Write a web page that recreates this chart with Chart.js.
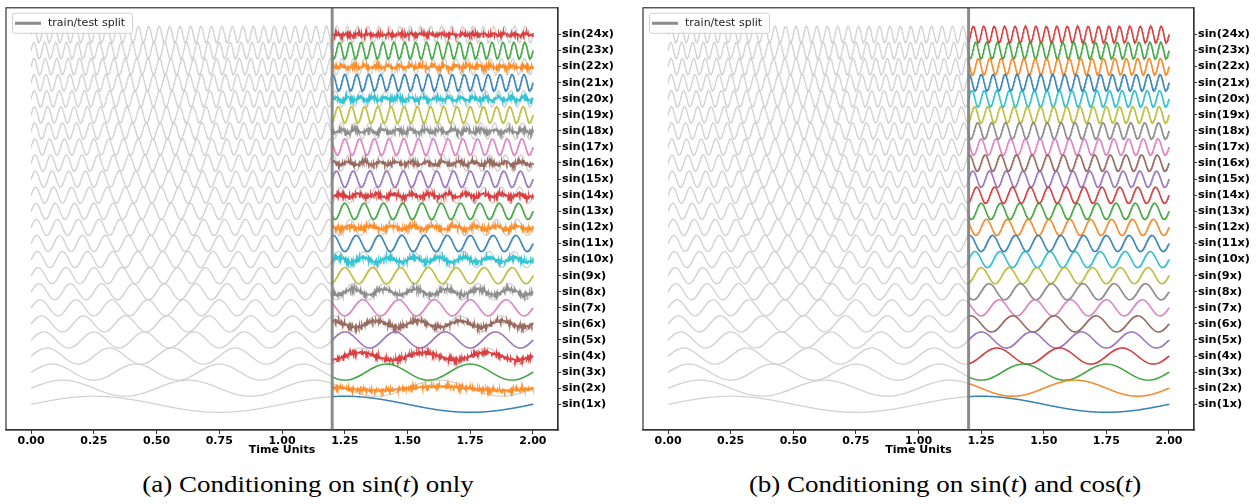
<!DOCTYPE html>
<html>
<head>
<meta charset="utf-8">
<script src="https://cdn.jsdelivr.net/npm/chart.js@4.4.0/dist/chart.umd.min.js"></script>
<style>
  body { margin: 0; background: #fff; width: 1258px; height: 504px; overflow: hidden; position: relative; }
  .panel { position: absolute; top: 0; height: 462px; }
  .caption {
    position: absolute; top: 472px; transform: translateX(-50%) scaleX(1.2);
    font-family: 'Liberation Serif', serif; font-size: 22.5px; color: #000; white-space: nowrap;
  }
</style>
</head>
<body>
<div class="panel" style="left:0; width:618px"><canvas id="chartA"></canvas></div>
<div class="panel" style="left:637px; width:617px"><canvas id="chartB"></canvas></div>
<div class="caption" style="left:308px">(a) Conditioning on sin(<i>t</i>) only</div>
<div class="caption" style="left:945px">(b) Conditioning on sin(<i>t</i>) and cos(<i>t</i>)</div>

<script>
// one row per frequency, sin(kx) = k cycles per time unit
const freqs = [1, 2, 3, 4, 5, 6, 7, 8, 9, 10, 11, 12, 13, 14, 15, 16, 17, 18, 19, 20, 21, 22, 23, 24];
const rowLabels = freqs.map(k => 'sin(' + k + 'x)');
const xTicks = [0, 0.25, 0.5, 0.75, 1.0, 1.25, 1.5, 1.75, 2.0];
const splitT = 1.2;
const endT = 2.0;

// left panel (sin only): how much of the true swing the prediction keeps, and its noise level
const predScaleA = [1, 0.25, 1, 0.45, 1, 0.4, 1, 0.35, 1, 0.3, 1, 0.2, 1, 0.2, 1, 0.2, 1, 0.2, 1, 0.2, 1, 0.15, 1, 0.1];
const noiseA = [0, 0.13, 0, 0.15, 0, 0.15, 0, 0.15, 0, 0.17, 0, 0.15, 0, 0.16, 0, 0.15, 0, 0.17, 0, 0.17, 0, 0.15, 0, 0.14];
// jitter shapes for the noisy predictions (mostly small, with some deep downward spikes)
const jitterA = [0.2, -0.1, 0.35, -0.3, 0.1, 0.45, -0.2, 0.05, -0.8, 0.3, -0.05, 0.25, -0.4, 0.15, 0.4, -0.15, 0.0, -1.2, 0.3,
                 0.1, -0.25, 0.5, -0.1, 0.2, -0.35, 0.05, 0.3, -0.6, 0.15, -0.05, 0.4, -0.2, 0.1, -0.9, 0.25, 0.0, -0.3];
const jitterB = [0.1, -0.2, 0.3, 0.0, -0.4, 0.2, -0.1, 0.35, -0.25, 0.05, -0.7, 0.15, 0.25, -0.05, -0.3, 0.4, -0.15, 0.1,
                 -0.5, 0.2, 0.0, -0.2, 0.3];

const palette = ['#1f77b4', '#ff7f0e', '#2ca02c', '#d62728', '#9467bd', '#8c564b', '#e377c2', '#7f7f7f', '#bcbd22', '#17becf'];
const AMP = 0.5;
const STEP = 0.002;
const Y_MIN = -0.6, Y_MAX = 25.65;

function wave(k, t) {
    return k + AMP * Math.sin(2 * Math.PI * k * t);
}

function buildDatasets(noisy) {
    const sets = [];
    const nEnd = Math.round(endT / STEP);
    const nSplit = Math.round(splitT / STEP);
    freqs.forEach((k, r) => {
        const grey = [];
        for (let i = 0; i <= nEnd; i++) {
            const t = i * STEP;
            grey.push({ x: t, y: wave(k, t) });
        }
        sets.push({ data: grey, borderColor: 'rgba(205,205,205,0.95)', borderWidth: 1.2, order: 2 });

        const pred = [];
        for (let i = nSplit; i <= nEnd; i++) {
            const t = i * STEP;
            let y = wave(k, t);
            if (noisy) {
                const j = jitterA[(i + r * 5) % jitterA.length] + jitterB[(i + r * 3) % jitterB.length];
                y = k + predScaleA[r] * (y - k) + noiseA[r] * j;
            }
            pred.push({ x: t, y: y });
        }
        sets.push({ data: pred, borderColor: palette[r % 10] + 'e0', borderWidth: noisy && noiseA[r] ? 1.5 : 1.4, order: 1 });
    });
    // train/test split marker
    sets.push({ data: [{ x: splitT, y: Y_MIN }, { x: splitT, y: Y_MAX }],
                borderColor: 'rgba(128,128,128,0.9)', borderWidth: 3, order: 0 });
    return sets;
}

const framePlugin = {
    id: 'frame',
    afterDatasetsDraw(chart) {
        const { ctx, chartArea: a } = chart;
        ctx.save();
        ctx.strokeStyle = '#333';
        ctx.lineWidth = 1.2;
        ctx.strokeRect(a.left, a.top, a.right - a.left, a.bottom - a.top);
        ctx.restore();
    }
};

const splitLegend = {
    id: 'splitLegend',
    afterDraw(chart) {
        const { ctx, chartArea: a } = chart;
        const x = a.left + 6, y = a.top + 5;
        ctx.save();
        ctx.font = '11px "DejaVu Sans"';
        const w = ctx.measureText('train/test split').width + 43;
        ctx.fillStyle = 'rgba(255,255,255,0.8)';
        ctx.strokeStyle = '#d0d0d0';
        ctx.lineWidth = 1;
        ctx.beginPath();
        ctx.roundRect(x + 0.5, y + 0.5, w, 20, 2);
        ctx.fill();
        ctx.stroke();
        ctx.strokeStyle = 'rgba(128,128,128,0.9)';
        ctx.lineWidth = 3;
        ctx.beginPath();
        ctx.moveTo(x + 3, y + 10.5);
        ctx.lineTo(x + 29, y + 10.5);
        ctx.stroke();
        ctx.fillStyle = '#222';
        ctx.textBaseline = 'middle';
        ctx.fillText('train/test split', x + 36, y + 10);
        ctx.restore();
    }
};

const boldFont = { family: 'DejaVu Sans', size: 11, weight: 'bold' };

function makeChart(id, noisy) {
    return new Chart(document.getElementById(id), {
        type: 'line',
        data: { datasets: buildDatasets(noisy) },
        options: {
            responsive: true,
            maintainAspectRatio: false,
            animation: false,
            parsing: false,
            normalized: true,
            events: [],
            elements: { point: { radius: 0 }, line: { tension: 0 } },
            layout: { padding: { left: 6, top: 4, right: 0, bottom: 0 } },
            plugins: { legend: { display: false }, tooltip: { enabled: false } },
            scales: {
                x: {
                    type: 'linear', position: 'bottom', min: -0.1, max: 2.1,
                    afterBuildTicks: s => { s.ticks = xTicks.map(v => ({ value: v })); },
                    afterFit: s => { s.height = 32; },
                    grid: { drawOnChartArea: false, tickLength: 4, color: '#333' },
                    border: { color: '#333', width: 1.2 },
                    ticks: { callback: v => v.toFixed(2), color: '#000', font: boldFont,
                             padding: 1, maxRotation: 0, autoSkip: false },
                    title: { display: true, text: 'Time Units', color: '#000', font: boldFont,
                             padding: { top: 0, bottom: 5 } }
                },
                y: {
                    type: 'linear', position: 'right', min: Y_MIN, max: Y_MAX,
                    afterBuildTicks: s => { s.ticks = freqs.map(k => ({ value: k })); },
                    afterFit: s => { s.width = 60; },
                    grid: { drawOnChartArea: false, tickLength: 3, color: '#333' },
                    border: { color: '#333', width: 1.2 },
                    ticks: { callback: (v, i) => rowLabels[i], color: '#000',
                             font: { family: 'DejaVu Sans', size: 11.3, weight: 'bold' },
                             padding: 1, autoSkip: false }
                }
            }
        },
        plugins: [framePlugin, splitLegend]
    });
}

makeChart('chartA', true);
makeChart('chartB', false);
</script>
</body>
</html>
